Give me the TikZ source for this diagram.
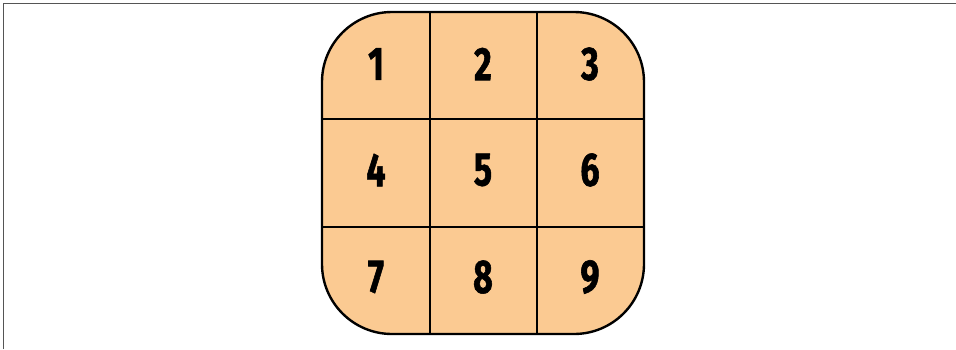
\documentclass[tikz,border=0pt]{standalone}
\usepackage{fontspec}
\newfontfamily\digitfont[FakeStretch=0.72,FakeBold=1.2]{Fira Sans Bold}
\definecolor{peach}{HTML}{FBCA92}
\definecolor{frame}{HTML}{555555}
\begin{document}
\begin{tikzpicture}[x=1pt,y=-1pt,
  cellnum/.style={font=\digitfont\fontsize{47}{47}\selectfont, inner sep=0pt, text=black},
  gridline/.style={line width=1.8pt, black},
  outerbox/.style={line width=2.4pt, black, fill=peach, rounded corners=70pt}]
\useasboundingbox (0,0) rectangle (956,349);
\draw[frame, line width=1pt] (3,349) -- (3,3) -- (956,3);
\coordinate (tl) at (322,12);
\coordinate (br) at (644,334);
\draw[outerbox] (tl) rectangle (br);
\coordinate (v1t) at (430,12); \coordinate (v1b) at (430,334);
\coordinate (v2t) at (537,12); \coordinate (v2b) at (537,334);
\coordinate (h1l) at (322,119); \coordinate (h1r) at (644,119);
\coordinate (h2l) at (322,227); \coordinate (h2r) at (644,227);
\draw[gridline] (v1t) -- (v1b);
\draw[gridline] (v2t) -- (v2b);
\draw[gridline] (h1l) -- (h1r);
\draw[gridline] (h2l) -- (h2r);
\node[cellnum] (n1) at (376,64) {1};
\node[cellnum] (n2) at (483,64) {2};
\node[cellnum] (n3) at (590,64) {3};
\node[cellnum] (n4) at (376,170) {4};
\node[cellnum] (n5) at (483,170) {5};
\node[cellnum] (n6) at (590,170) {6};
\node[cellnum] (n7) at (376,277) {7};
\node[cellnum] (n8) at (483,277) {8};
\node[cellnum] (n9) at (590,277) {9};
\end{tikzpicture}
\end{document}
